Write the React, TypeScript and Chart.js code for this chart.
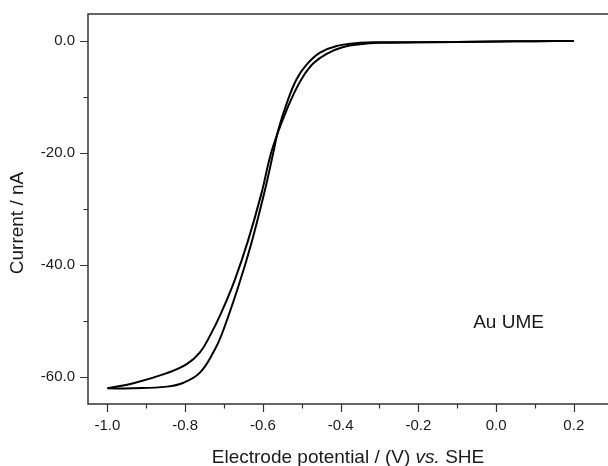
import React, { useEffect, useRef } from "react";
import { Chart, registerables } from "chart.js";

Chart.register(...registerables);

// Cathodic (forward) branch, ordered by potential
const forwardPotential = [-1.0, -0.933, -0.847, -0.796, -0.762, -0.736, -0.707, -0.672, -0.638, -0.604, -0.578, -0.548, -0.521, -0.496, -0.47, -0.436, -0.393, -0.35, -0.3, -0.2, -0.1, 0.0, 0.1, 0.2];
const forwardCurrent = [-62.0, -61.1, -59.3, -57.7, -55.6, -52.6, -48.5, -42.6, -35.6, -27.3, -19.8, -13.9, -9.5, -6.3, -4.0, -2.3, -1.1, -0.6, -0.35, -0.25, -0.2, -0.12, -0.05, 0.0];

// Reverse branch, ordered by potential
const reversePotential = [-1.0, -0.933, -0.847, -0.804, -0.762, -0.726, -0.706, -0.664, -0.63, -0.595, -0.574, -0.56, -0.538, -0.513, -0.487, -0.453, -0.41, -0.35, -0.3, -0.2, -0.1, 0.0, 0.1, 0.2];
const reverseCurrent = [-62.0, -62.0, -61.7, -61.0, -59.2, -55.4, -52.4, -44.0, -36.2, -26.7, -20.2, -15.8, -11.0, -6.8, -4.2, -2.1, -0.9, -0.35, -0.25, -0.22, -0.18, -0.12, -0.05, 0.0];

const xMajorTicks = [-1.0, -0.8, -0.6, -0.4, -0.2, 0.0, 0.2];
const xMinorTicks = [-0.9, -0.7, -0.5, -0.3, -0.1, 0.1];
const yMajorTicks = [0, -20, -40, -60];
const yMinorTicks = [-10, -30, -50];

const xRange = [-1.05, 0.288];
const yRange = [-64.8, 4.8];

const xTitleParts = [
  { text: "Electrode potential / (V) ", italic: false },
  { text: "vs.", italic: true },
  { text: " SHE", italic: false },
];
const yTitle = "Current / nA";
const annotationText = "Au UME";
const annotationAt = { x: -0.059, y: -51.3 };

const FONT = '"Liberation Sans", Arial, Helvetica, sans-serif';
const INK = "#1a1a1a";

const decorPlugin = {
  id: "decor",
  afterDraw(chart: any) {
    const { ctx, chartArea } = chart;
    const { left, top, right, bottom } = chartArea;
    const xs = chart.scales.x;
    const ys = chart.scales.y;
    ctx.save();
    ctx.strokeStyle = "#333";
    ctx.lineWidth = 1.5;
    ctx.beginPath();
    ctx.moveTo(right + 1, top);
    ctx.lineTo(left, top);
    ctx.lineTo(left, bottom);
    ctx.lineTo(right + 1, bottom);
    ctx.stroke();

    ctx.lineWidth = 1.2;
    ctx.beginPath();
    xMajorTicks.forEach((v) => {
      const p = Math.round(xs.getPixelForValue(v)) + 0.5;
      ctx.moveTo(p, bottom);
      ctx.lineTo(p, bottom + 8);
    });
    xMinorTicks.forEach((v) => {
      const p = Math.round(xs.getPixelForValue(v)) + 0.5;
      ctx.moveTo(p, bottom);
      ctx.lineTo(p, bottom + 4.5);
    });
    yMajorTicks.forEach((v) => {
      const p = Math.round(ys.getPixelForValue(v)) + 0.5;
      ctx.moveTo(left, p);
      ctx.lineTo(left - 8, p);
    });
    yMinorTicks.forEach((v) => {
      const p = Math.round(ys.getPixelForValue(v)) + 0.5;
      ctx.moveTo(left, p);
      ctx.lineTo(left - 4.5, p);
    });
    ctx.stroke();

    // x title with italic "vs."
    ctx.fillStyle = INK;
    ctx.textBaseline = "alphabetic";
    ctx.textAlign = "left";
    const widths = xTitleParts.map((p) => {
      ctx.font = `${p.italic ? "italic " : ""}19px ${FONT}`;
      return ctx.measureText(p.text).width;
    });
    const total = widths.reduce((a, b) => a + b, 0);
    let cx = (left + right) / 2 - total / 2;
    xTitleParts.forEach((p, i) => {
      ctx.font = `${p.italic ? "italic " : ""}19px ${FONT}`;
      ctx.fillText(p.text, cx, 463);
      cx += widths[i];
    });

    // y title
    ctx.save();
    ctx.translate(18, 223);
    ctx.rotate(-Math.PI / 2);
    ctx.font = `19px ${FONT}`;
    ctx.textAlign = "center";
    ctx.textBaseline = "middle";
    ctx.fillText(yTitle, 0, 0);
    ctx.restore();

    // annotation
    ctx.font = `19px ${FONT}`;
    ctx.textAlign = "left";
    ctx.textBaseline = "alphabetic";
    ctx.fillText(annotationText, xs.getPixelForValue(annotationAt.x), ys.getPixelForValue(annotationAt.y));
    ctx.restore();
  },
};

export default function App() {
  const ref = useRef<HTMLCanvasElement | null>(null);
  useEffect(() => {
    if (!ref.current) return;
    const line = (xs: number[], ys: number[]) => xs.map((x, i) => ({ x, y: ys[i] }));
    const ds = (label: string, xs: number[], ys: number[]) => ({
      label,
      data: line(xs, ys),
      showLine: true,
      borderColor: "#000",
      borderWidth: 2,
      pointRadius: 0,
      tension: 0.4,
      fill: false,
    });
    const chart = new Chart(ref.current, {
      type: "scatter",
      data: {
        datasets: [
          ds("forward", forwardPotential, forwardCurrent),
          ds("reverse", reversePotential, reverseCurrent),
        ],
      },
      options: {
        animation: false,
        responsive: false,
        devicePixelRatio: 1,
        layout: { padding: { top: 5, right: 0, left: 0, bottom: 0 } },
        plugins: { legend: { display: false }, tooltip: { enabled: false } },
        scales: {
          x: {
            type: "linear",
            min: xRange[0],
            max: xRange[1],
            grid: { display: false },
            border: { display: false },
            afterBuildTicks: (s: any) => {
              s.ticks = xMajorTicks.map((v) => ({ value: v }));
            },
            afterFit: (s: any) => {
              s.height = 62;
            },
            ticks: {
              autoSkip: false,
              maxRotation: 0,
              padding: 5,
              color: INK,
              font: { family: FONT, size: 15 },
              callback: (v: any) => Number(v).toFixed(1),
            },
          },
          y: {
            type: "linear",
            min: yRange[0],
            max: yRange[1],
            grid: { display: false },
            border: { display: false },
            afterBuildTicks: (s: any) => {
              s.ticks = yMajorTicks.map((v) => ({ value: v }));
            },
            afterFit: (s: any) => {
              s.width = 88;
            },
            ticks: {
              autoSkip: false,
              padding: 5,
              color: INK,
              font: { family: FONT, size: 15 },
              callback: (v: any) => Number(v).toFixed(1),
            },
          },
        },
      },
      plugins: [decorPlugin],
    });
    return () => chart.destroy();
  }, []);
  return (
    <div style={{ position: "fixed", left: 0, top: 0, width: 608, height: 466, background: "#fff" }}>
      <canvas ref={ref} width={608} height={466} style={{ width: 608, height: 466, display: "block" }} />
    </div>
  );
}
